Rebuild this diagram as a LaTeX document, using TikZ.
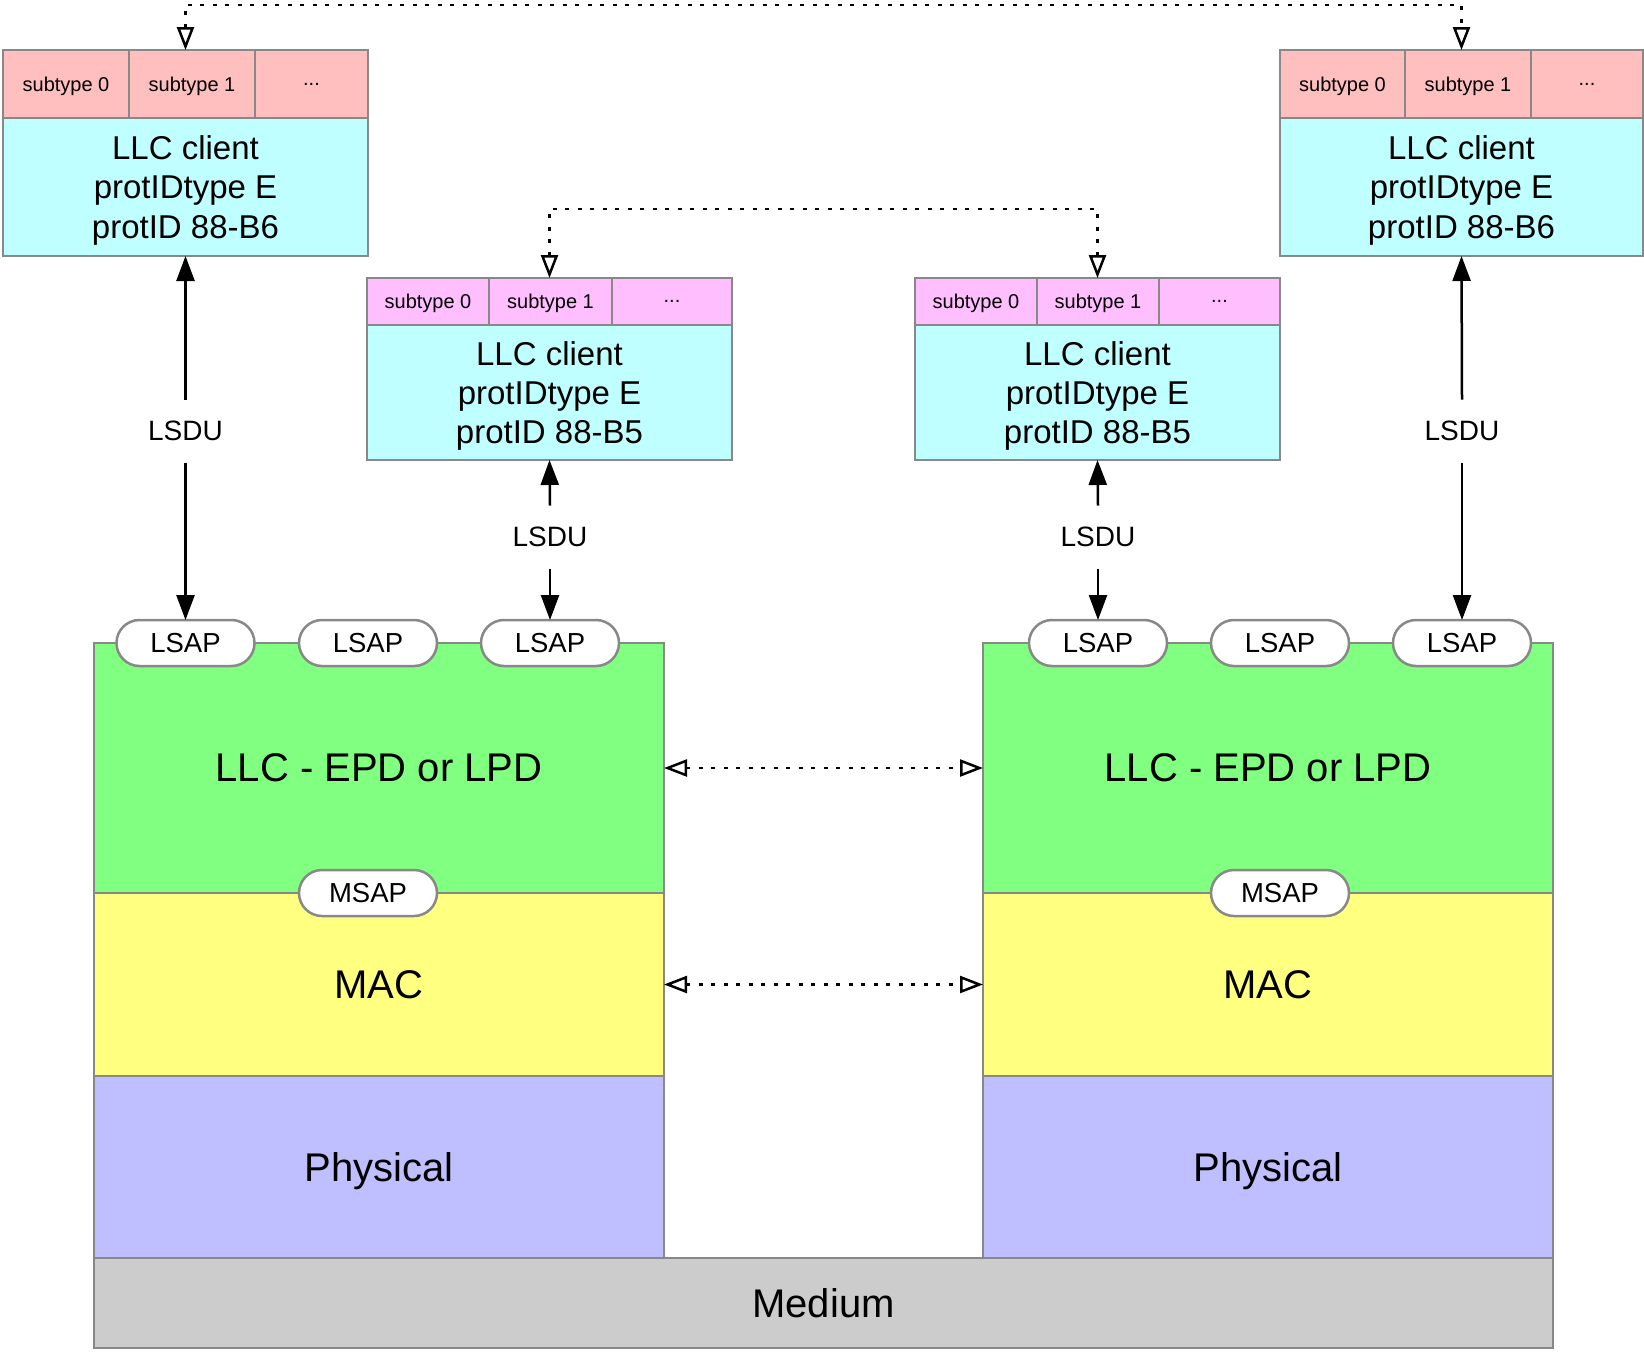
\documentclass[tikz,border=0pt]{standalone}
\usepackage{fontspec}
\setmainfont{Liberation Sans}
\usetikzlibrary{arrows.meta,shapes.misc}
\definecolor{pinkA}{HTML}{FFBFBF}
\definecolor{pinkB}{HTML}{FFBFFF}
\definecolor{cyanA}{HTML}{BFFFFF}
\definecolor{greenA}{HTML}{80FF80}
\definecolor{yellowA}{HTML}{FFFF80}
\definecolor{blueA}{HTML}{BFBFFF}
\definecolor{grayA}{HTML}{CCCCCC}
\definecolor{edge}{HTML}{888888}
\tikzset{
  cell/.style={draw=edge, line width=2.5pt, inner sep=0pt, outer sep=0pt, align=center, text=black, text depth=0pt},
  subA/.style={cell, fill=pinkA, font=\fontsize{20}{24}\selectfont, minimum height=68pt},
  subB/.style={cell, fill=pinkB, font=\fontsize{20}{24}\selectfont, minimum height=47pt},
  client/.style={cell, fill=cyanA, font=\fontsize{33}{39.3}\selectfont, minimum width=365pt},
  layer/.style={cell, font=\fontsize{40}{48}\selectfont, minimum width=570pt},
  pill/.style={rounded rectangle, draw=edge, fill=white, line width=2.5pt, inner sep=0pt, outer sep=0pt,
    minimum width=138pt, minimum height=46pt, font=\fontsize{27.5}{33}\selectfont},
  lbl/.style={inner sep=0pt, outer sep=0pt, minimum height=63pt, font=\fontsize{28}{33}\selectfont},
  solidarrow/.style={line width=2.5pt, -{Triangle[length=25pt,width=18pt]}},
  dotarrow/.style={line width=2.5pt, dash pattern=on 4pt off 8.5pt,
    {Triangle[open,length=23pt,width=17pt,line width=2.5pt]}-{Triangle[open,length=23pt,width=17pt,line width=2.5pt]}}
}
\begin{document}
\begin{tikzpicture}[x=1pt,y=-1pt]
\useasboundingbox (0,0) rectangle (1644,1352);
\fill[white] (0,0) rectangle (1644,1352);

% ---- top-left client ----
\node[subA, minimum width=126pt] (tl0) at (66,84) {subtype 0};
\node[subA, minimum width=126pt] (tl1) at (192,84) {subtype 1};
\node[subA, minimum width=113pt] (tl2) at (311.5,84) {...};
\node[client, minimum height=138pt] (tlc) at (185.5,187) {LLC client\\protIDtype E\\protID 88-B6};

% ---- top-right client ----
\node[subA, minimum width=125pt] (tr0) at (1342.5,84) {subtype 0};
\node[subA, minimum width=126pt] (tr1) at (1468,84) {subtype 1};
\node[subA, minimum width=112pt] (tr2) at (1587,84) {...};
\node[client, minimum height=138pt, minimum width=363pt] (trc) at (1461.5,187) {LLC client\\protIDtype E\\protID 88-B6};

% ---- middle-left client ----
\node[subB, minimum width=122pt] (ml0) at (428,301.5) {subtype 0};
\node[subB, minimum width=123pt] (ml1) at (550.5,301.5) {subtype 1};
\node[subB, minimum width=120pt] (ml2) at (672,301.5) {...};
\node[client, minimum height=135pt] (mlc) at (549.5,392.5) {LLC client\\protIDtype E\\protID 88-B5};

% ---- middle-right client ----
\node[subB, minimum width=122pt] (mr0) at (976,301.5) {subtype 0};
\node[subB, minimum width=122pt] (mr1) at (1098,301.5) {subtype 1};
\node[subB, minimum width=121pt] (mr2) at (1219.5,301.5) {...};
\node[client, minimum height=135pt] (mrc) at (1097.5,392.5) {LLC client\\protIDtype E\\protID 88-B5};

% ---- left stack ----
\node[layer, fill=greenA, minimum height=250pt] (llcL) at (379,768) {LLC - EPD or LPD};
\node[layer, fill=yellowA, minimum height=183pt] (macL) at (379,984.5) {MAC};
\node[layer, fill=blueA, minimum height=182pt] (phyL) at (379,1167) {Physical};

% ---- right stack ----
\node[layer, fill=greenA, minimum height=250pt] (llcR) at (1268,768) {LLC - EPD or LPD};
\node[layer, fill=yellowA, minimum height=183pt] (macR) at (1268,984.5) {MAC};
\node[layer, fill=blueA, minimum height=182pt] (phyR) at (1268,1167) {Physical};

% ---- medium ----
\node[cell, fill=grayA, minimum width=1459pt, minimum height=90pt, font=\fontsize{40}{48}\selectfont] (med) at (823.5,1303) {Medium};

% ---- service access points ----
\node[pill] (lsL1) at (185.5,643) {LSAP};
\node[pill] (lsL2) at (368,643) {LSAP};
\node[pill] (lsL3) at (550,643) {LSAP};
\node[pill] (lsR1) at (1098,643) {LSAP};
\node[pill] (lsR2) at (1280,643) {LSAP};
\node[pill] (lsR3) at (1462,643) {LSAP};
\node[pill] (msL) at (368,893) {MSAP};
\node[pill] (msR) at (1280,893) {MSAP};

% ---- LSDU arrows ----
\node[lbl] (du1) at (185.5,431) {LSDU};
\node[lbl] (du2) at (550,537) {LSDU};
\node[lbl] (du3) at (1098,537) {LSDU};
\node[lbl] (du4) at (1462,431) {LSDU};
\draw[solidarrow] (du1.north) -- (tlc.south);
\draw[solidarrow] (du1.south) -- (lsL1.north);
\draw[solidarrow] (du2.north) -- (mlc.south);
\draw[solidarrow] (du2.south) -- (lsL3.north);
\draw[solidarrow] (du3.north) -- (mrc.south);
\draw[solidarrow] (du3.south) -- (lsR1.north);
\draw[solidarrow] (du4.north) -- (trc.south);
\draw[solidarrow] (du4.south) -- (lsR3.north);

% ---- peer (dotted) connections ----
\draw[dotarrow] (tlc.north |- tl1.north) -- ++(0,-45) -| (trc.north |- tr1.north);
\draw[dotarrow] (mlc.north |- ml1.north) -- ++(0,-69) -| (mrc.north |- mr1.north);
\draw[dotarrow] (llcL.east) -- (llcR.west);
\draw[dotarrow] (macL.east) -- (macR.west);
\end{tikzpicture}
\end{document}
